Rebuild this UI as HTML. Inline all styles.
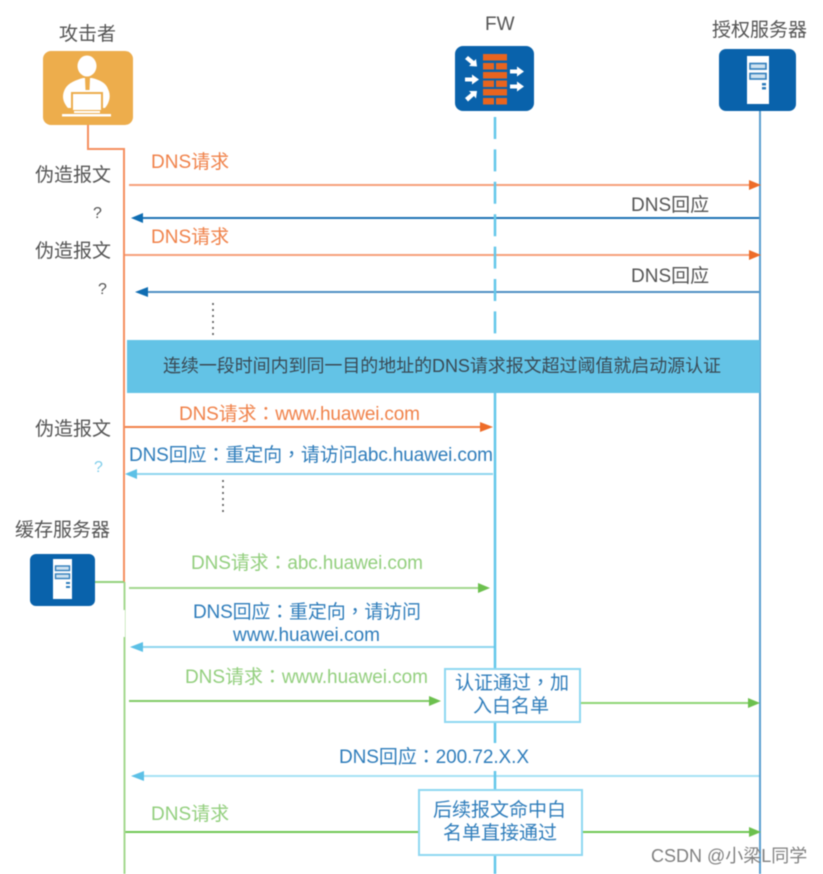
<!DOCTYPE html>
<html><head><meta charset="utf-8"><style>
html,body{margin:0;padding:0;background:#fff;width:823px;height:874px;overflow:hidden}
svg{display:block;filter:blur(.4px)}
text{font-family:"Liberation Sans","Noto Sans CJK SC",sans-serif;font-size:19px}
tspan.p{font-family:"Noto Sans CJK TC",sans-serif}
.k{fill:#555}.o{fill:#f0824a}.b{fill:#2f7dbb}.g{fill:#93cf7e}
</style></head><body>
<svg width="823" height="874" viewBox="0 0 823 874" xmlns="http://www.w3.org/2000/svg">
<!-- arrows lines first -->
<g fill="none" stroke-width="2">
<path d="M129 185H750" stroke="#f6a07a"/>
<path d="M760 218H140" stroke="#1f74b5"/>
<path d="M125 255H750" stroke="#f6a07a"/>
<path d="M760 292H145" stroke="#4f90c4"/>
<path d="M124 427H482" stroke="#f2824a"/>
<path d="M493 474H135" stroke="#8fd6ef"/>
<path d="M129 588H480" stroke="#a4d88f"/>
<path d="M495 647H140" stroke="#8fd6ef"/>
<path d="M129 701H431" stroke="#82cc68"/>
<path d="M580 703H750" stroke="#8ed676"/>
<path d="M760 776H142" stroke="#a6e2f5"/>
<path d="M124 832H419" stroke="#70c855"/>
<path d="M582 832H750" stroke="#70c855"/>
</g>
<!-- lifelines -->
<path d="M88 125V149H124V582" fill="none" stroke="#f58f5f" stroke-width="2"/>
<path d="M124.500 582V874" stroke="#a4d88f" stroke-width="2"/>
<rect x="123" y="610" width="2" height="27" fill="#fff"/>
<path d="M95 582H124" stroke="#93d27c" stroke-width="2"/>
<path d="M760 111V874" stroke="#5b9fd0" stroke-width="2"/>
<path d="M495 117V340" stroke="#62c6ea" stroke-width="2.500" stroke-dasharray="22 10.400"/>
<path d="M495 393V669" stroke="#62c6ea" stroke-width="2.500"/>
<path d="M495 722V743" stroke="#62c6ea" stroke-width="2.500"/>
<path d="M495 771V790" stroke="#62c6ea" stroke-width="2.500"/>
<path d="M495 855V874" stroke="#62c6ea" stroke-width="2.500"/>
<!-- attacker icon -->
<rect x="43" y="51" width="90" height="74" rx="8" fill="#edad4c"/>
<ellipse cx="87" cy="66" rx="9.500" ry="10.500" fill="#fff"/>
<path d="M68 108C62 101 62 95 65 89C68 83 76 80 83 78H92C100 80 106 83 108 89C111 95 110 102 105 108Z" fill="#fff"/>
<rect x="71" y="92" width="32" height="19" fill="#edad4c"/>
<rect x="73" y="94" width="28" height="16" fill="#fff"/>
<rect x="74" y="111" width="26" height="2" fill="#fff"/>
<rect x="62" y="114" width="49" height="2.500" fill="#fff"/>
<path d="M85 78H90L89.500 90H85.500Z" fill="#edad4c"/>
<!-- FW icon -->
<rect x="455" y="46" width="79" height="65" rx="8" fill="#0962ab"/>
<g fill="#e8641f">
<rect x="483" y="54" width="24" height="6.500"/><rect x="483" y="63" width="11" height="6.500"/><rect x="496" y="63" width="11" height="6.500"/>
<rect x="483" y="72" width="24" height="6.500"/><rect x="483" y="80.500" width="11" height="6.500"/><rect x="496" y="80.500" width="11" height="6.500"/>
<rect x="483" y="89" width="24" height="6.500"/><rect x="483" y="98" width="11" height="6.500"/><rect x="496" y="98" width="11" height="6.500"/>
</g>
<g fill="#fff">
<path d="M510 69.500H517V66.500L524 71.500L517 76.500V73.500H510Z"/>
<path d="M510 84.500H517V81.500L524 86.500L517 91.500V88.500H510Z"/>
<path d="M465 77.500H472V74.500L479 79.500L472 84.500V81.500H465Z"/>
<path d="M468 56L474 61L476 59L477 66.500L469 66L471 64L465 59Z"/>
<path d="M465 98L471 93L469 91L477 91L476 98.500L474 96L468 101.500Z"/>
</g>
<!-- auth server icon -->
<rect x="719" y="49" width="77" height="62" rx="7" fill="#0962ab"/>
<rect x="747" y="56" width="22" height="48" fill="#fff"/>
<rect x="750" y="63.500" width="16" height="5.500" fill="#cfe2f0" stroke="#2f7dbb" stroke-width="1.600"/>
<rect x="750" y="73.500" width="16" height="5.500" fill="#cfe2f0" stroke="#2f7dbb" stroke-width="1.600"/>
<rect x="762" y="83" width="4" height="2.500" fill="#2f7dbb"/><rect x="762" y="87" width="4" height="2.500" fill="#2f7dbb"/>
<!-- cache server icon -->
<rect x="30" y="554" width="65" height="52" rx="6" fill="#0962ab"/>
<rect x="53" y="559" width="19" height="40" fill="#fff"/>
<rect x="55.500" y="566" width="14" height="4.500" fill="#cfe2f0" stroke="#2f7dbb" stroke-width="1.400"/>
<rect x="55.500" y="574" width="14" height="4.500" fill="#cfe2f0" stroke="#2f7dbb" stroke-width="1.400"/>
<rect x="66" y="582" width="4" height="2" fill="#2f7dbb"/><rect x="66" y="586" width="4" height="2" fill="#2f7dbb"/>
<!-- band -->
<rect x="127" y="340" width="633" height="53" fill="#63c3e6"/>
<g fill="#ee6c28">
<path d="M749 180L761 185L749 190Z"/><path d="M749 250L761 255L749 260Z"/><path d="M480 422L493 427L480 432Z"/>
</g>
<g fill="#0f6db2"><path d="M143 213L131 218L143 223Z"/><path d="M148 287L135 292L148 297Z"/></g>
<g fill="#5cc0e6"><path d="M137 469L125 474L137 479Z"/><path d="M143 642L130 647L143 652Z"/><path d="M144 771L131 776L144 781Z"/></g>
<g fill="#6cc04e"><path d="M478 583L490 588L478 593Z"/><path d="M429 696L441 701L429 706Z"/><path d="M748 698L760 703L748 708Z"/><path d="M749 827L761 832L749 837Z"/></g>
<!-- dots -->
<path d="M213 303V337" stroke="#555" stroke-width="1.600" stroke-dasharray="2 4"/>
<path d="M223 480V516" stroke="#555" stroke-width="1.600" stroke-dasharray="2 4"/>
<!-- boxes -->
<rect x="445" y="669" width="135" height="53" fill="#fff" stroke="#8fd8f2" stroke-width="2"/>
<rect x="419" y="790" width="163" height="65" fill="#fff" stroke="#8fd8f2" stroke-width="2"/>
<!-- labels -->
<text class="k" x="59" y="40">攻击者</text>
<text class="k" x="485" y="30">FW</text>
<text class="k" x="712" y="36">授权服务器</text>
<text class="k" x="15" y="536">缓存服务器</text>
<text class="k" x="35" y="181">伪造报文</text>
<text class="k" x="35" y="257">伪造报文</text>
<text class="k" x="35" y="435">伪造报文</text>
<text class="k" x="93" y="218" style="font-size:16px">?</text>
<text class="k" x="98" y="294" style="font-size:16px">?</text>
<text x="94" y="472" style="font-size:16px;fill:#7fcdea">?</text>
<text class="o" x="151" y="168">DNS请求</text>
<text class="o" x="151" y="243">DNS请求</text>
<text class="k" x="631" y="211">DNS回应</text>
<text class="k" x="631" y="282">DNS回应</text>
<text x="163" y="372" fill="#3a4a55" style="font-size:18px" textLength="558" lengthAdjust="spacing">连续一段时间内到同一目的地址的DNS请求报文超过阈值就启动源认证</text>
<text class="o" x="179" y="420" textLength="241" lengthAdjust="spacing">DNS请求<tspan class="p">：</tspan>www.huawei.com</text>
<text class="b" x="129" y="461" textLength="364" lengthAdjust="spacing">DNS回应<tspan class="p">：</tspan>重定向<tspan class="p">，</tspan>请访问abc.huawei.com</text>
<text class="g" x="191" y="569" textLength="232" lengthAdjust="spacing">DNS请求<tspan class="p">：</tspan>abc.huawei.com</text>
<text class="b" x="193" y="618" textLength="228" lengthAdjust="spacing">DNS回应<tspan class="p">：</tspan>重定向<tspan class="p">，</tspan>请访问</text>
<text class="b" x="233" y="641" textLength="147" lengthAdjust="spacing">www.huawei.com</text>
<text class="g" x="185" y="683" textLength="243" lengthAdjust="spacing">DNS请求<tspan class="p">：</tspan>www.huawei.com</text>
<text class="b" x="455" y="689">认证通过<tspan class="p">，</tspan>加</text>
<text class="b" x="473" y="712">入白名单</text>
<text class="b" x="339" y="763" textLength="190" lengthAdjust="spacing">DNS回应<tspan class="p">：</tspan>200.72.X.X</text>
<text class="g" x="151" y="820">DNS请求</text>
<text class="b" x="433" y="816">后续报文命中白</text>
<text class="b" x="443" y="839">名单直接通过</text>
<text x="651" y="862" style="font-size:18px" fill="#808080">CSDN @小梁L同学</text>
</svg>
</body></html>
